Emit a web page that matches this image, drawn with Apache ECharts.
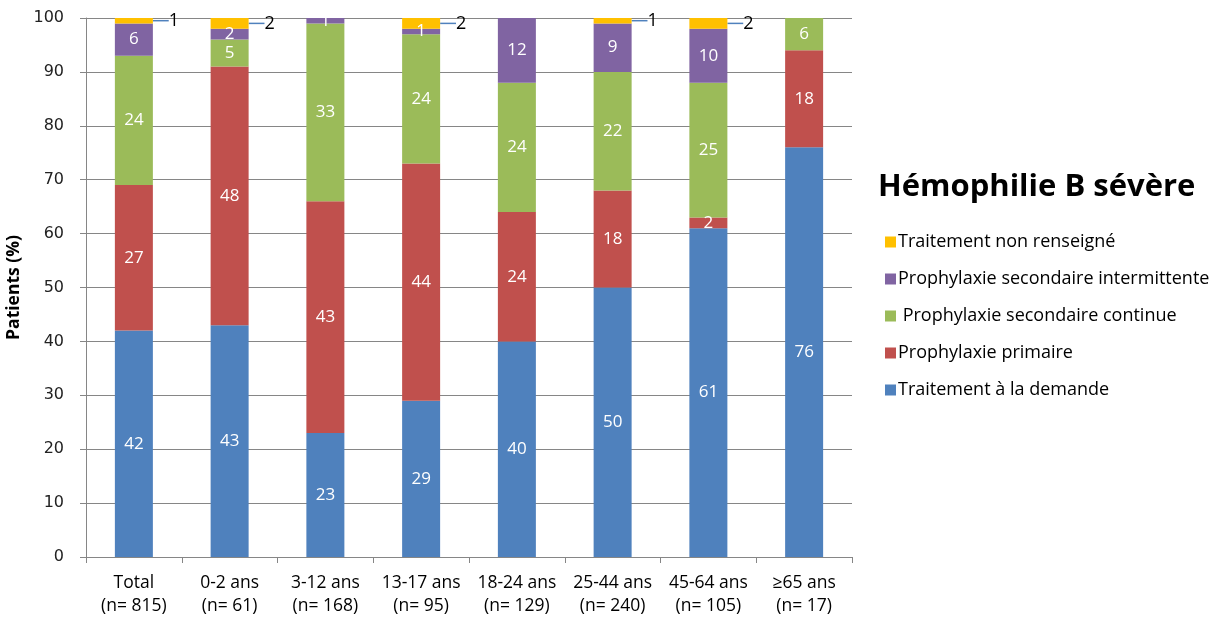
<!DOCTYPE html>
<html>
<head>
<meta charset="utf-8">
<script src="https://cdn.jsdelivr.net/npm/echarts@6/dist/echarts.min.js"></script>
<style>
  html, body { margin: 0; padding: 0; background: #fff; }
  #chart { width: 1219px; height: 622px; }
</style>
</head>
<body>
<div id="chart"></div>
<script>
// Age groups (with number of patients)
const categories = [
  'Total\n(n= 815)', '0-2 ans\n(n= 61)', '3-12 ans\n(n= 168)', '13-17 ans\n(n= 95)',
  '18-24 ans\n(n= 129)', '25-44 ans\n(n= 240)', '45-64 ans\n(n= 105)', '≥65 ans\n(n= 17)'
];
const yTicks = [0, 10, 20, 30, 40, 50, 60, 70, 80, 90, 100];

// Share of patients (%) per treatment modality
const demande       = [42, 43, 23, 29, 40, 50, 61, 76];
const primaire      = [27, 48, 43, 44, 24, 18, 2, 18];
const continue_     = [24, 5, 33, 24, 24, 22, 25, 6];
const intermittente = [6, 2, 1, 1, 12, 9, 10, 0];
const nonRenseigne  = [1, 2, 0, 2, 0, 1, 2, 0];

const FONT = '"Open Sans", Lato, sans-serif';

const chart = echarts.init(document.getElementById('chart'));

// empty segments are left out so they get neither label nor guide line
const seg = arr => arr.map(v => (v === 0 ? null : v));

const innerLabel = {
  show: true,
  position: 'inside',
  color: '#fff',
  fontSize: 17,
  fontFamily: FONT,
  formatter: p => (p.value ? String(p.value) : '')
};

function barSeries(name, data, color, label, extra) {
  return Object.assign({
    name: name,
    type: 'bar',
    stack: 'total',
    barWidth: 38,
    data: seg(data),
    itemStyle: { color: color },
    label: label,
    emphasis: { disabled: true }
  }, extra || {});
}

chart.setOption({
  animation: false,
  title: {
    text: 'Hémophilie B sévère',
    left: 873,
    top: 167,
    textStyle: { fontFamily: FONT, fontSize: 31, fontWeight: 'bold', color: '#000' }
  },
  legend: {
    orient: 'vertical',
    left: 880,
    top: 228,
    itemWidth: 11,
    itemHeight: 11,
    itemGap: 19,
    icon: 'rect',
    data: ['Traitement non renseigné', 'Prophylaxie secondaire intermittente',
           ' Prophylaxie secondaire continue', 'Prophylaxie primaire', 'Traitement à la demande'],
    textStyle: { fontFamily: FONT, fontSize: 18, color: '#000', padding: [0, 0, 0, -3] },
    selectedMode: false
  },
  grid: { left: 86, right: 367, top: 18, bottom: 65, containLabel: false, outerBoundsMode: 'none' },
  xAxis: {
    type: 'category',
    data: categories,
    axisLine: { lineStyle: { color: '#868686' } },
    axisTick: { show: true, interval: 0, length: 6, lineStyle: { color: '#868686' } },
    axisLabel: { interval: 0, hideOverlap: false, fontFamily: FONT, fontSize: 17.5, color: '#000', lineHeight: 23, margin: 15 }
  },
  yAxis: {
    type: 'value',
    min: yTicks[0],
    max: yTicks[yTicks.length - 1],
    interval: 10,
    name: 'Patients (%)',
    nameLocation: 'middle',
    nameGap: 58,
    nameTextStyle: { fontFamily: FONT, fontSize: 17.5, fontWeight: 'bold', color: '#000' },
    axisLine: { show: true, lineStyle: { color: '#868686' } },
    axisTick: { show: true, length: 6, lineStyle: { color: '#868686' } },
    axisLabel: { fontFamily: '"DejaVu Sans", sans-serif', fontSize: 16, color: '#222', margin: 22 },
    splitLine: { lineStyle: { color: '#868686' } }
  },
  series: [
    barSeries('Traitement à la demande', demande, '#4F81BD', innerLabel),
    barSeries('Prophylaxie primaire', primaire, '#C0504D', innerLabel),
    barSeries(' Prophylaxie secondaire continue', continue_, '#9BBB59', innerLabel),
    barSeries('Prophylaxie secondaire intermittente', intermittente, '#8064A2', innerLabel),
    barSeries('Traitement non renseigné', nonRenseigne, '#FFC000', {
      show: true,
      position: 'inside',
      color: '#000',
      fontSize: 18,
      fontFamily: FONT,
      formatter: p => (p.value ? String(p.value) : '')
    }, {
      labelLayout: { dx: 40 },
      labelLine: { show: true, lineStyle: { color: '#4F81BD', width: 1.5 } }
    })
  ]
});
</script>
</body>
</html>
